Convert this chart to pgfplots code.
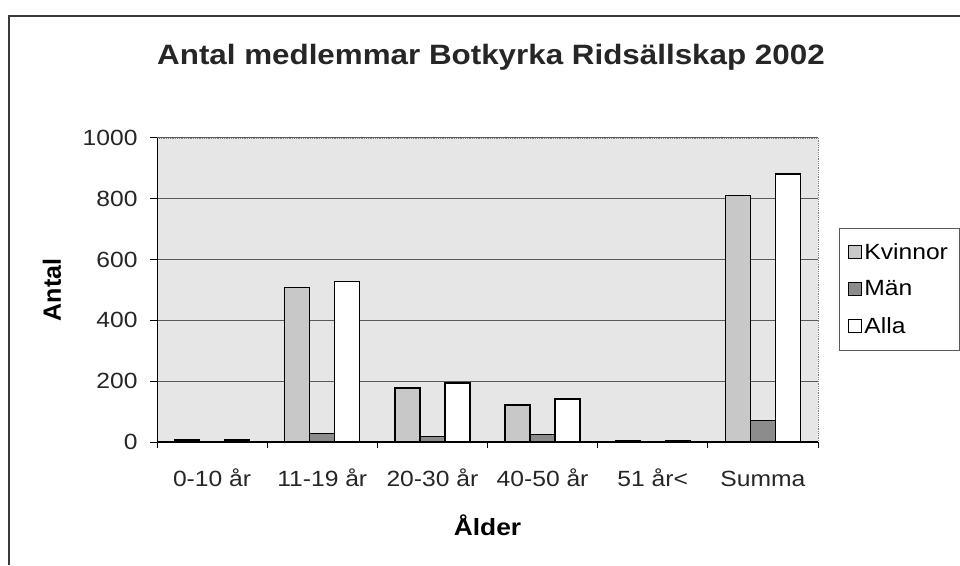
\documentclass[border=0pt]{standalone}
\usepackage{fontspec}
\setmainfont[FakeStretch=1.12]{Liberation Sans}
\newfontfamily\plainfont{Liberation Sans}
\usepackage{pgfplots}
\pgfplotsset{compat=1.18}
\definecolor{bgc}{HTML}{E6E6E6}
\definecolor{kv}{HTML}{C8C8C8}
\definecolor{ma}{HTML}{8C8C8C}
\definecolor{gridc}{HTML}{5A5A5A}
\definecolor{framec}{HTML}{3A3A3A}
\begin{document}
\begin{tikzpicture}
\useasboundingbox (0pt,0pt) rectangle (960pt,565pt);
\clip (0pt,0pt) rectangle (960pt,565pt);
\fill[white] (0pt,0pt) rectangle (960pt,565pt);
\draw[line width=2pt, color=framec] (9pt,0pt) -- (9pt,549pt) -- (965pt,549pt);
\node[anchor=base, font=\fontsize{28}{32}\selectfont\bfseries, text=black!85] at (491pt,500pt) {Antal medlemmar Botkyrka Ridsällskap 2002};
\begin{axis}[
  at={(157pt,123pt)}, anchor=south west,
  scale only axis, width=661pt, height=304pt,
  ybar=0pt, bar width=25pt,
  xmin=-0.5, xmax=5.5, ymin=0, ymax=1000,
  xtick={0,...,5},
  xticklabels={0-10 år, 11-19 år, 20-30 år, 40-50 år, 51 år<, Summa},
  minor xtick={-0.5,0.5,...,5.5},
  ytick={0,200,...,1000},
  tick pos=left,
  tick align=outside,
  major tick length=7pt,
  minor tick length=6pt,
  major x tick style={draw=none},
  minor x tick style={draw=black, line width=1pt},
  y tick style={draw=black, line width=1pt},
  ymajorgrids,
  major grid style={draw=gridc, line width=1pt},
  axis background/.style={fill=bgc},
  axis line style={draw=gray, densely dotted, line width=0.8pt},
  /pgf/number format/assume math mode=true,
  /pgf/number format/1000 sep={},
  ticklabel style={font=\fontsize{22}{26}\selectfont, text=black!85},
  yticklabel style={xshift=-9pt},
  xticklabel style={text height=17pt, text depth=5pt, yshift=-17pt},
  ylabel={Antal},
  ylabel style={font=\plainfont\fontsize{25}{30}\selectfont\bfseries, at={(axis description cs:-0.1589,0.5)}, anchor=center},
  xlabel={Ålder},
  xlabel style={font=\fontsize{23.5}{28}\selectfont\bfseries, at={(axis description cs:0.5,-0.2730)}, anchor=center},
  legend style={at={(axis description cs:1.0318,0.704)}, anchor=north west,
    draw=gray!70!black, line width=0.8pt,
    font=\fontsize{22}{26}\selectfont,
    inner xsep=9pt, inner ysep=13pt, row sep=16pt,
    cells={anchor=west}},
  legend image code/.code={\draw[#1,draw=black,line width=1pt] (0pt,-6.5pt) rectangle (13pt,6.5pt);},
]
\addplot[fill=kv, draw=black, line width=1.3pt] coordinates {(0,7) (1,508) (2,178) (3,122) (4,6) (5,812)};
\addplot[fill=ma, draw=black, line width=1.3pt] coordinates {(1,28) (2,18) (3,24) (5,70)};
\addplot[fill=white, draw=black, line width=1.3pt] coordinates {(0,7) (1,528) (2,194) (3,141) (4,6) (5,882)};
\legend{Kvinnor, Män, Alla}
\draw[black, line width=1.2pt] (rel axis cs:0,1) -- (rel axis cs:0,0) -- (rel axis cs:1,0);
\end{axis}
\end{tikzpicture}
\end{document}
